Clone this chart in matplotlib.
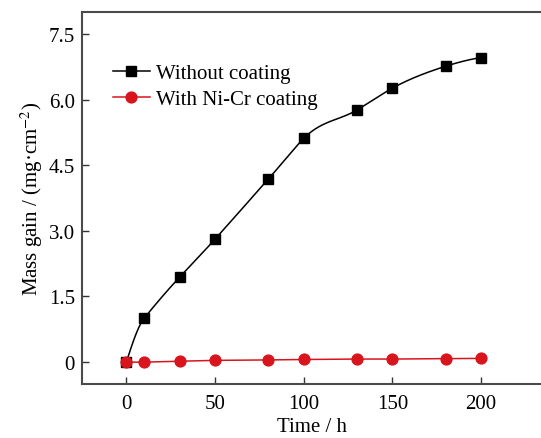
import numpy as np
import matplotlib
matplotlib.use("Agg")
import matplotlib.pyplot as plt

time_h = [0, 10, 30, 50, 80, 100, 130, 150, 180, 200]
without_coating = [0.0, 1.00, 1.94, 2.81, 4.18, 5.11, 5.76, 6.26, 6.76, 6.96]
with_nicr = [0.0, 0.00, 0.02, 0.04, 0.05, 0.06, 0.07, 0.07, 0.08, 0.085]
xticks = [0, 50, 100, 150, 200]
yticks = [0, 1.5, 3.0, 4.5, 6.0, 7.5]
yticklabels = ["0", "1.5", "3.0", "4.5", "6.0", "7.5"]


def akima(x, y, n=600):
    x = np.asarray(x, float)
    y = np.asarray(y, float)
    N = len(x)
    h = np.diff(x)
    m = np.diff(y) / h
    mm = np.concatenate([[3 * m[0] - 2 * m[1], 2 * m[0] - m[1]], m,
                         [2 * m[-1] - m[-2], 3 * m[-1] - 2 * m[-2]]])
    t = np.zeros(N)
    for i in range(N):
        m1, m2, m3, m4 = mm[i], mm[i + 1], mm[i + 2], mm[i + 3]
        w1 = abs(m4 - m3)
        w2 = abs(m2 - m1)
        if w1 + w2 < 1e-12:
            t[i] = 0.5 * (m2 + m3)
        else:
            t[i] = (w1 * m2 + w2 * m3) / (w1 + w2)
    xs = np.linspace(x[0], x[-1], n)
    idx = np.clip(np.searchsorted(x, xs) - 1, 0, N - 2)
    hi = h[idx]
    s = (xs - x[idx]) / hi
    h00 = 2 * s**3 - 3 * s**2 + 1
    h10 = s**3 - 2 * s**2 + s
    h01 = -2 * s**3 + 3 * s**2
    h11 = s**3 - s**2
    ys = h00 * y[idx] + h10 * hi * t[idx] + h01 * y[idx + 1] + h11 * hi * t[idx + 1]
    return xs, ys


plt.rcParams['font.family'] = ['Liberation Serif', 'DejaVu Serif']
plt.rcParams['mathtext.fontset'] = 'stix'

fig = plt.figure(figsize=(5.41, 4.39), dpi=100)
ax = fig.add_axes([0.1516, 0.123, 0.8484, 0.8474])

red = '#d8141c'
xs, ys = akima(time_h, without_coating)
ax.plot(xs, ys, color='black', lw=1.1, zorder=2)
ax.plot(time_h, without_coating, 's', color='black', ms=7, zorder=3)
ax.plot(time_h, with_nicr, '-', color=red, lw=1.1, zorder=2)
ax.plot(time_h, with_nicr, 'o', color=red, ms=7.8, zorder=4)

h1, = ax.plot([], [], 's-', color='black', ms=7, lw=1.1, label='Without coating')
h2, = ax.plot([], [], 'o-', color=red, ms=7.8, lw=1.1, label='With Ni-Cr coating')
ax.legend(handles=[h1, h2], loc='upper left', bbox_to_anchor=(0.035, 0.9),
          frameon=False, fontsize=15, handlelength=1.8, handletextpad=0.3,
          labelspacing=0.3, borderpad=0.2)

ax.set_xlim(-25, 233.8)
ax.set_ylim(-0.5, 8.0)
ax.set_xticks(xticks)
ax.set_yticks(yticks)
ax.set_yticklabels(yticklabels)
ax.tick_params(direction='in', length=5, width=1, labelsize=15, color='#333333')
ax.tick_params(axis='x', pad=7)
ax.tick_params(axis='y', pad=5)
ax.spines['right'].set_visible(False)
for s in ['left', 'top', 'bottom']:
    ax.spines[s].set_linewidth(1.5)
    ax.spines[s].set_color('#4a4a4a')
ax.set_xlabel('Time / h', fontsize=15, labelpad=3)
ax.set_ylabel('Mass gain / (mg·cm$^{-2}$)', fontsize=15, labelpad=3)

fig.savefig('out.png', dpi=100)
